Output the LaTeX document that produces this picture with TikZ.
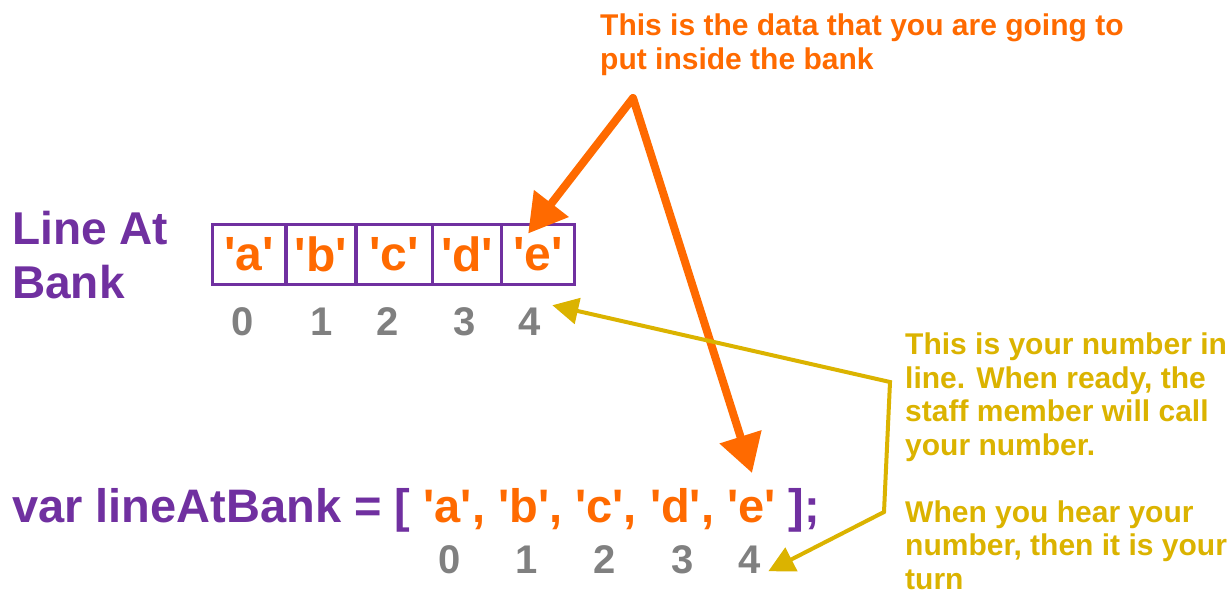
\documentclass[tikz,border=0pt]{standalone}
\usepackage{fontspec}
\newfontfamily\sans{Liberation Sans}
\usetikzlibrary{arrows.meta}
\definecolor{viola}{HTML}{7030A0}
\definecolor{arancio}{HTML}{FF6A00}
\definecolor{giallo}{HTML}{DBB300}
\definecolor{grigio}{HTML}{808080}

\begin{document}
\begin{tikzpicture}[x=1pt, y=-1pt,
    cella/.style={draw=viola, line width=3pt, inner sep=0pt, minimum height=60pt,
      text=arancio, font=\sans\fontsize{48}{58}\selectfont\bfseries},
    indice/.style={text=grigio, inner sep=0pt, anchor=base,
      font=\sans\fontsize{40}{48}\selectfont\bfseries},
    nota/.style={anchor=north west, inner sep=0pt, align=left,
      font=\sans\fontsize{30}{33.5}\selectfont\bfseries},
    frecciaarancio/.style={draw=arancio, line width=8pt, line join=round,
      {Triangle[length=38pt,width=42pt]}-{Triangle[length=38pt,width=42pt]}},
    frecciagialla/.style={draw=giallo, line width=4pt,
      {Triangle[length=26pt,width=26pt]}-{Triangle[length=26pt,width=26pt]}}]

  \useasboundingbox (0,0) rectangle (1230,596);

  \node[anchor=north west, inner sep=0pt, align=left, text=viola,
    font=\sans\fontsize{46}{54}\selectfont\bfseries] (titolo) at (12,211) {Line At\\Bank};

  % la fila in banca
  \node[cella, minimum width=73.3pt] (cella0) at (249.3,254) {'a'};
  \node[cella, minimum width=70pt]   (cella1) at (321,254)   {'b'};
  \node[cella, minimum width=76.7pt] (cella2) at (394.3,254) {'c'};
  \node[cella, minimum width=69pt]   (cella3) at (467.2,254) {'d'};
  \node[cella, minimum width=73.3pt] (cella4) at (538.3,254) {'e'};
  \foreach \x/\n in {243/0,322/1,388/2,465/3,530/4}
    { \node[indice] (sopra\n) at (\x,335) {\n}; }

  % il codice
  \node[anchor=base west, inner sep=0pt, text=viola,
    font=\sans\fontsize{47}{56}\selectfont\bfseries] (codice) at (12,522)
    {var lineAtBank = [ \textcolor{arancio}{'a', 'b', 'c', 'd', 'e'} ];};
  \foreach \x/\n in {450/0,527/1,605/2,683/3,750/4}
    { \node[indice] (sotto\n) at (\x,573) {\n}; }

  \node[nota, text=arancio] (notadati) at (600,14)
    {This is the data that you are going to\\put inside the bank};
  \node[nota, text=giallo] (notaindice) at (905,333)
    {This is your number in\\line. When ready, the\\staff member will call\\your number.\\[33.5pt]When you hear your\\number, then it is your\\turn};

  \coordinate (vertice) at (633,98);
  \coordinate (puntaE) at (752,473);
  \draw[frecciaarancio] ([shift={(28,11)}]cella4.north west) -- (vertice) -- (puntaE);

  \coordinate (gomito1) at (890,382);
  \coordinate (gomito2) at (884,512);
  \draw[frecciagialla] ([shift={(11,-16)}]sopra4.east) -- (gomito1) -- (gomito2)
    -- ([shift={(7,12)}]sotto4.east);
\end{tikzpicture}
\end{document}
